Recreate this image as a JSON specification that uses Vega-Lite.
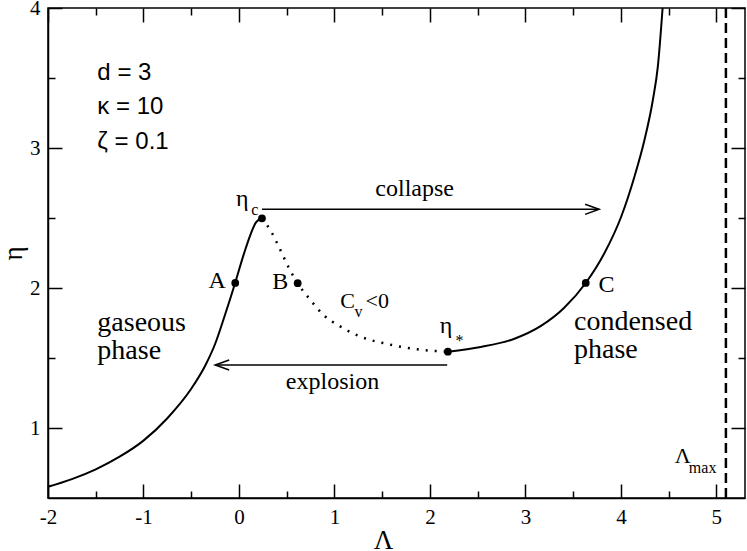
{
  "$schema": "https://vega.github.io/schema/vega-lite/v6.json",
  "width": 697,
  "height": 490,
  "autosize": "none",
  "padding": {"left": 48, "top": 8, "right": 2, "bottom": 53},
  "background": "white",
  "config": {
    "view": {"stroke": "black", "strokeWidth": 1.5},
    "axis": {
      "grid": false,
      "labelFont": "Liberation Serif",
      "labelFontSize": 21,
      "labelColor": "black",
      "labelFlush": false,
      "labelOverlap": false,
      "tickColor": "black",
      "tickWidth": 1.5,
      "domainColor": "black",
      "domainWidth": 1.5,
      "titleFont": "Liberation Serif",
      "titleFontSize": 27,
      "titleFontWeight": "normal",
      "titleColor": "black"
    }
  },
  "datasets": {
    "curve": [
      {"x": -2.0, "y": 0.58, "seg": "gas"},
      {"x": -1.75, "y": 0.635, "seg": "gas"},
      {"x": -1.5, "y": 0.705, "seg": "gas"},
      {"x": -1.25, "y": 0.795, "seg": "gas"},
      {"x": -1.0, "y": 0.91, "seg": "gas"},
      {"x": -0.75, "y": 1.07, "seg": "gas"},
      {"x": -0.5, "y": 1.28, "seg": "gas"},
      {"x": -0.35, "y": 1.45, "seg": "gas"},
      {"x": -0.25, "y": 1.6, "seg": "gas"},
      {"x": -0.15, "y": 1.8, "seg": "gas"},
      {"x": -0.04, "y": 2.036, "seg": "gas"},
      {"x": 0.05, "y": 2.24, "seg": "gas"},
      {"x": 0.12, "y": 2.38, "seg": "gas"},
      {"x": 0.18, "y": 2.47, "seg": "gas"},
      {"x": 0.241, "y": 2.498, "seg": "gas"},
      {"x": 0.241, "y": 2.498, "seg": "unstable"},
      {"x": 0.347, "y": 2.391, "seg": "unstable"},
      {"x": 0.434, "y": 2.271, "seg": "unstable"},
      {"x": 0.518, "y": 2.15, "seg": "unstable"},
      {"x": 0.615, "y": 2.034, "seg": "unstable"},
      {"x": 0.749, "y": 1.914, "seg": "unstable"},
      {"x": 0.886, "y": 1.807, "seg": "unstable"},
      {"x": 1.064, "y": 1.724, "seg": "unstable"},
      {"x": 1.274, "y": 1.652, "seg": "unstable"},
      {"x": 1.554, "y": 1.6, "seg": "unstable"},
      {"x": 1.869, "y": 1.562, "seg": "unstable"},
      {"x": 2.188, "y": 1.545, "seg": "unstable"},
      {"x": 2.188, "y": 1.545, "seg": "cond"},
      {"x": 2.533, "y": 1.579, "seg": "cond"},
      {"x": 2.879, "y": 1.636, "seg": "cond"},
      {"x": 3.163, "y": 1.729, "seg": "cond"},
      {"x": 3.404, "y": 1.857, "seg": "cond"},
      {"x": 3.632, "y": 2.036, "seg": "cond"},
      {"x": 3.827, "y": 2.248, "seg": "cond"},
      {"x": 4.003, "y": 2.509, "seg": "cond"},
      {"x": 4.142, "y": 2.795, "seg": "cond"},
      {"x": 4.247, "y": 3.057, "seg": "cond"},
      {"x": 4.335, "y": 3.343, "seg": "cond"},
      {"x": 4.387, "y": 3.581, "seg": "cond"},
      {"x": 4.437, "y": 4.0, "seg": "cond"}
    ],
    "dots": [
      {"x": -0.039, "y": 2.036, "name": "A"},
      {"x": 0.241, "y": 2.498, "name": "eta_c"},
      {"x": 0.615, "y": 2.034, "name": "B"},
      {"x": 2.188, "y": 1.545, "name": "eta_star"},
      {"x": 3.632, "y": 2.036, "name": "C"}
    ],
    "arrows": [
      {"x1": 0.241, "x2": 3.772, "y": 2.562, "dir": "right"},
      {"x1": 2.181, "x2": -0.249, "y": 1.45, "dir": "left"}
    ]
  },
  "resolve": {"axis": {"x": "independent", "y": "independent"}},
  "layer": [
    {
      "data": {"name": "curve"},
      "transform": [{"filter": "datum.seg !== 'unstable'"}],
      "mark": {"type": "line", "color": "black", "strokeWidth": 2, "interpolate": "monotone"},
      "encoding": {
        "x": {
          "field": "x", "type": "quantitative",
          "scale": {"domain": [-2, 5.3], "nice": false, "zero": false},
          "axis": {
            "orient": "bottom",
            "title": "Λ",
            "values": [-2, -1, 0, 1, 2, 3, 4, 5],
            "labelExpr": "'' + datum.value",
            "labelFont": "Liberation Serif",
            "tickSize": -14,
            "labelPadding": 22,
            "titlePadding": 0,
            "titleFont": "Liberation Serif",
            "titleX": 335
          }
        },
        "y": {
          "field": "y", "type": "quantitative",
          "scale": {"domain": [0.5, 4], "nice": false, "zero": false},
          "axis": {
            "orient": "left",
            "title": "η",
            "values": [1, 2, 3, 4],
            "labelExpr": "'' + datum.value",
            "labelFont": "Liberation Serif",
            "tickSize": -14,
            "labelPadding": 22,
            "titlePadding": 2,
            "titleFont": "Liberation Serif"
          }
        },
        "detail": {"field": "seg"}
      }
    },
    {
      "data": {"values": [{"x": 5.1, "y": 0.5, "y2": 4}]},
      "mark": {"type": "rule", "color": "black", "strokeWidth": 2.5, "strokeDash": [10, 5]},
      "encoding": {
        "x": {
          "field": "x", "type": "quantitative",
          "axis": {"orient": "top", "title": null, "labels": false, "domain": false, "values": [-2, -1, 0, 1, 2, 3, 4, 5], "tickSize": -14}
        },
        "y": {
          "field": "y", "type": "quantitative",
          "axis": {"orient": "right", "title": null, "labels": false, "domain": false, "values": [1, 2, 3, 4], "tickSize": -14}
        },
        "y2": {"field": "y2"}
      }
    },
    {
      "data": {"name": "curve"},
      "transform": [{"filter": "datum.seg === 'unstable'"}],
      "mark": {"type": "line", "color": "black", "strokeWidth": 2.5, "strokeDash": [2, 7], "interpolate": "monotone"},
      "encoding": {
        "x": {
          "field": "x", "type": "quantitative",
          "axis": {"orient": "bottom", "title": null, "labels": false, "domain": false, "values": [-1.5, -0.5, 0.5, 1.5, 2.5, 3.5, 4.5], "tickSize": -7}
        },
        "y": {
          "field": "y", "type": "quantitative",
          "axis": {"orient": "left", "title": null, "labels": false, "domain": false, "values": [1.5, 2.5, 3.5], "tickSize": -7}
        }
      }
    },
    {
      "data": {"name": "arrows"},
      "mark": {"type": "rule", "color": "black", "strokeWidth": 1.5},
      "encoding": {
        "x": {
          "field": "x1", "type": "quantitative",
          "axis": {"orient": "top", "title": null, "labels": false, "domain": false, "values": [-1.5, -0.5, 0.5, 1.5, 2.5, 3.5, 4.5], "tickSize": -7}
        },
        "x2": {"field": "x2"},
        "y": {
          "field": "y", "type": "quantitative",
          "axis": {"orient": "right", "title": null, "labels": false, "domain": false, "values": [1.5, 2.5, 3.5], "tickSize": -7}
        }
      }
    },
    {
      "data": {"name": "arrows"},
      "mark": {"type": "point", "filled": false, "stroke": "black", "strokeWidth": 1.5, "size": 784, "opacity": 1},
      "encoding": {
        "x": {"field": "x2", "type": "quantitative", "axis": null},
        "y": {"field": "y", "type": "quantitative", "axis": null},
        "shape": {
          "field": "dir", "type": "nominal", "legend": null,
          "scale": {"domain": ["right", "left"], "range": ["M-1,-0.36L0,0L-1,0.36", "M1,-0.36L0,0L1,0.36"]}
        }
      }
    },
    {
      "data": {"name": "dots"},
      "mark": {"type": "circle", "color": "black", "size": 60, "opacity": 1},
      "encoding": {
        "x": {"field": "x", "type": "quantitative", "axis": null},
        "y": {"field": "y", "type": "quantitative", "axis": null}
      }
    },
    {
      "data": {"values": [
        {"x": -1.483, "y": 3.486, "t": "d = 3"},
        {"x": -1.483, "y": 3.241, "t": "κ = 10"},
        {"x": -1.483, "y": 2.991, "t": "ζ = 0.1"}
      ]},
      "mark": {"type": "text", "font": "Liberation Sans", "fontSize": 24, "align": "left", "baseline": "alphabetic", "color": "black"},
      "encoding": {
        "x": {"field": "x", "type": "quantitative", "axis": null},
        "y": {"field": "y", "type": "quantitative", "axis": null},
        "text": {"field": "t"}
      }
    },
    {
      "data": {"values": [
        {"x": -1.483, "y": 1.695, "t": "gaseous"},
        {"x": -1.483, "y": 1.493, "t": "phase"},
        {"x": 3.509, "y": 1.70, "t": "condensed"},
        {"x": 3.509, "y": 1.498, "t": "phase"}
      ]},
      "mark": {"type": "text", "font": "Liberation Serif", "fontSize": 28, "align": "left", "baseline": "alphabetic", "color": "black"},
      "encoding": {
        "x": {"field": "x", "type": "quantitative", "axis": null},
        "y": {"field": "y", "type": "quantitative", "axis": null},
        "text": {"field": "t"}
      }
    },
    {
      "data": {"values": [
        {"x": 1.84, "y": 2.657, "t": "collapse"},
        {"x": 0.98, "y": 1.279, "t": "explosion"},
        {"x": -0.227, "y": 2.0, "t": "A"},
        {"x": 0.433, "y": 1.99, "t": "B"},
        {"x": 3.85, "y": 1.971, "t": "C"},
        {"x": 0.035, "y": 2.586, "t": "η"},
        {"x": 2.169, "y": 1.679, "t": "η"}
      ]},
      "mark": {"type": "text", "font": "Liberation Serif", "fontSize": 24, "align": "center", "baseline": "alphabetic", "color": "black"},
      "encoding": {
        "x": {"field": "x", "type": "quantitative", "axis": null},
        "y": {"field": "y", "type": "quantitative", "axis": null},
        "text": {"field": "t"}
      }
    },
    {
      "data": {"values": [
        {"x": 1.062, "y": 1.857, "t": "C"},
        {"x": 1.325, "y": 1.857, "t": "<0"},
        {"x": 4.565, "y": 0.75, "t": "Λ"}
      ]},
      "mark": {"type": "text", "font": "Liberation Serif", "fontSize": 22, "align": "left", "baseline": "alphabetic", "color": "black"},
      "encoding": {
        "x": {"field": "x", "type": "quantitative", "axis": null},
        "y": {"field": "y", "type": "quantitative", "axis": null},
        "text": {"field": "t"}
      }
    },
    {
      "data": {"values": [
        {"x": 0.129, "y": 2.52, "t": "c"},
        {"x": 2.268, "y": 1.586, "t": "*"},
        {"x": 1.209, "y": 1.793, "t": "v"},
        {"x": 4.712, "y": 0.679, "t": "max"}
      ]},
      "mark": {"type": "text", "font": "Liberation Serif", "fontSize": 16, "align": "left", "baseline": "alphabetic", "color": "black"},
      "encoding": {
        "x": {"field": "x", "type": "quantitative", "axis": null},
        "y": {"field": "y", "type": "quantitative", "axis": null},
        "text": {"field": "t"}
      }
    }
  ]
}
